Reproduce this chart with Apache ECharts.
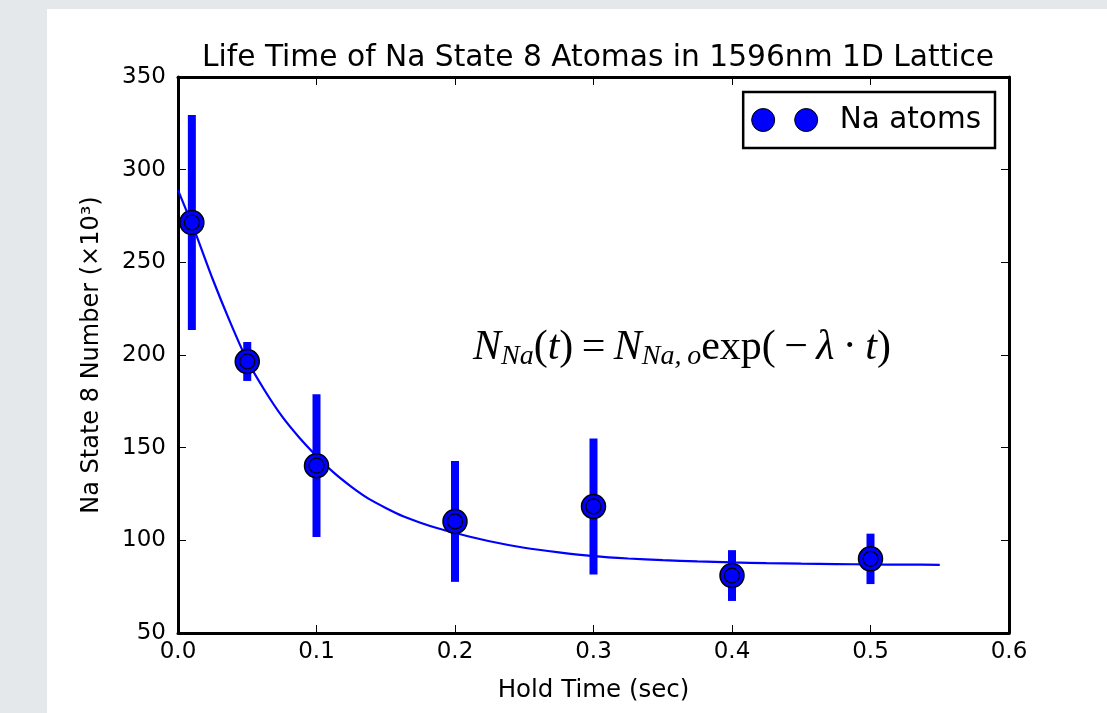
<!DOCTYPE html>
<html>
<head>
<meta charset="utf-8">
<script src="https://cdn.jsdelivr.net/npm/echarts@6/dist/echarts.min.js"></script>
<style>
  html, body { margin: 0; padding: 0; background: #e4e8eb; width: 1107px; height: 713px; overflow: hidden; }
  #panel { position: absolute; left: 47px; top: 9px; width: 1060px; height: 704px; background: #ffffff; }
  #chart { position: absolute; left: 0; top: 0; width: 1107px; height: 713px; }
</style>
</head>
<body>
<div id="panel"></div>
<div id="chart"></div>
<script>
// ---- data ----
const holdTime = [0.01, 0.05, 0.1, 0.2, 0.3, 0.4, 0.5];
const naNumber = [271.5, 196.5, 140.3, 110.2, 118.3, 81.0, 90.0];
const naError  = [58.0, 10.5, 38.5, 32.6, 36.7, 13.7, 13.6];

// fitted curve
const fitTime  = [0, 0.0125, 0.025, 0.0375, 0.05, 0.0625, 0.075, 0.0875, 0.1, 0.1125, 0.125, 0.1375, 0.15, 0.1625, 0.175, 0.1875, 0.2,
                  0.225, 0.25, 0.275, 0.3, 0.325, 0.35, 0.375, 0.4, 0.425, 0.45, 0.475, 0.5, 0.525, 0.55];
const fitValue = [289, 266, 241, 218, 197, 181, 167, 155.5, 145.5, 136.5, 129, 122.5, 117.5, 113, 109.5, 106.5, 104,
                  99.5, 96, 93.5, 91.5, 90.2, 89.3, 88.6, 88.1, 87.7, 87.4, 87.2, 87.0, 86.9, 86.8];

const xTicks = [0.0, 0.1, 0.2, 0.3, 0.4, 0.5, 0.6];
const yTicks = [50, 100, 150, 200, 250, 300, 350];

const titleText = 'Life Time of Na State 8 Atomas in 1596nm 1D Lattice';
const xName = 'Hold Time (sec)';
const yName = 'Na State 8 Number (\u00d710\u00b3)';
const seriesName = 'Na atoms';

// ---- build ----
const points = holdTime.map((t, i) => [t, naNumber[i]]);
const bars = holdTime.map((t, i) => [t, naNumber[i] - naError[i], naNumber[i] + naError[i]]);
const fit = fitTime.map((t, i) => [t, fitValue[i]]);

const FONT = 'DejaVu Sans';
const BLUE = '#0000ff';

const chart = echarts.init(document.getElementById('chart'), null, { renderer: 'canvas' });

const axisCommon = {
  type: 'value',
  axisLine: { show: true, onZero: false, lineStyle: { color: '#000', width: 3 } },
  axisTick: { show: true, inside: true, length: 8, lineStyle: { color: '#000', width: 1 } },
  splitLine: { show: false }
};

const option = {
  animation: false,
  backgroundColor: 'transparent',
  title: {
    text: titleText,
    left: 593,
    top: 38,
    textAlign: 'center',
    textStyle: { fontFamily: FONT, fontWeight: 'normal', fontSize: 29.7, color: '#000' }
  },
  legend: {
    data: [seriesName],
    right: 112,
    top: 92,
    orient: 'horizontal',
    padding: [13, 14, 13, 8],
    borderColor: '#000',
    borderWidth: 2.5,
    borderRadius: 0,
    backgroundColor: '#fff',
    itemWidth: 66,
    itemHeight: 23,
    icon: 'path://M0,11.5 A11.5,11.5 0 1,1 23,11.5 A11.5,11.5 0 1,1 0,11.5 Z M43,11.5 A11.5,11.5 0 1,1 66,11.5 A11.5,11.5 0 1,1 43,11.5 Z',
    itemStyle: { color: BLUE, borderColor: '#000', borderWidth: 1 },
    formatter: function (n) { return '{g|}{t|' + n + '}'; },
    textStyle: {
      fontFamily: FONT, fontSize: 29.5, color: '#000',
      rich: { g: { width: 17 }, t: { fontFamily: FONT, fontSize: 29.5, color: '#000' } }
    }
  },
  grid: { left: 178, right: 98, top: 77, bottom: 80, containLabel: false },
  xAxis: [
    Object.assign({}, axisCommon, {
      position: 'bottom',
      min: xTicks[0], max: xTicks[xTicks.length - 1], interval: 0.1,
      name: xName, nameLocation: 'middle', nameGap: 45,
      nameTextStyle: { fontFamily: FONT, fontSize: 24.5, color: '#000' },
      axisLabel: { show: true, margin: 8, fontFamily: FONT, fontSize: 23, color: '#000',
        formatter: v => v.toFixed(1) }
    }),
    Object.assign({}, axisCommon, {
      position: 'top',
      min: xTicks[0], max: xTicks[xTicks.length - 1], interval: 0.1,
      axisLabel: { show: false }
    })
  ],
  yAxis: [
    Object.assign({}, axisCommon, {
      position: 'left',
      min: yTicks[0], max: yTicks[yTicks.length - 1], interval: 50,
      name: yName, nameLocation: 'middle', nameGap: 74, nameRotate: 90,
      nameTextStyle: { fontFamily: FONT, fontSize: 24, color: '#000' },
      axisLabel: { show: true, margin: 12, fontFamily: FONT, fontSize: 23, color: '#000',
        formatter: v => String(Math.round(v)) }
    }),
    Object.assign({}, axisCommon, {
      position: 'right',
      min: yTicks[0], max: yTicks[yTicks.length - 1], interval: 50,
      axisLabel: { show: false }
    })
  ],
  series: [
    {
      type: 'line',
      data: fit,
      smooth: 0.25,
      showSymbol: false,
      symbol: 'none',
      lineStyle: { color: BLUE, width: 2.2 },
      z: 2,
      silent: true
    },
    {
      type: 'custom',
      data: bars,
      z: 3,
      renderItem: function (params, api) {
        const top = api.coord([api.value(0), api.value(2)]);
        const bot = api.coord([api.value(0), api.value(1)]);
        return {
          type: 'rect',
          shape: { x: top[0] - 4, y: top[1], width: 8, height: bot[1] - top[1] },
          style: { fill: BLUE }
        };
      }
    },
    {
      name: seriesName,
      type: 'scatter',
      data: points,
      symbol: 'circle',
      symbolSize: 24,
      itemStyle: { color: BLUE, borderColor: '#000', borderWidth: 1.5, opacity: 1 },
      z: 4
    },
    {
      type: 'scatter',
      data: points,
      symbol: 'circle',
      symbolSize: 15,
      itemStyle: { color: BLUE, borderColor: '#000', borderWidth: 1.2, opacity: 1 },
      z: 5
    }
  ],
  graphic: [
    {
      type: 'text',
      left: 473,
      top: 327,
      z: 10,
      style: {
        text: '{i|N}{s|Na}{r|(}{i|t}{r|)\u2009=\u2009}{i|N}{s|Na,\u2009o}{r|exp(\u2009\u2212\u2009}{i|\u03bb}{r|\u2009\u00b7\u2009}{i|t}{r|)}',
        rich: {
          i: { fontFamily: 'Liberation Serif', fontStyle: 'italic', fontSize: 42, lineHeight: 45, color: '#000' },
          r: { fontFamily: 'Liberation Serif', fontSize: 42, lineHeight: 45, color: '#000' },
          s: { fontFamily: 'Liberation Serif', fontStyle: 'italic', fontSize: 28, lineHeight: 26, verticalAlign: 'bottom', color: '#000' }
        }
      }
    }
  ]
};

chart.setOption(option);
</script>
</body>
</html>
